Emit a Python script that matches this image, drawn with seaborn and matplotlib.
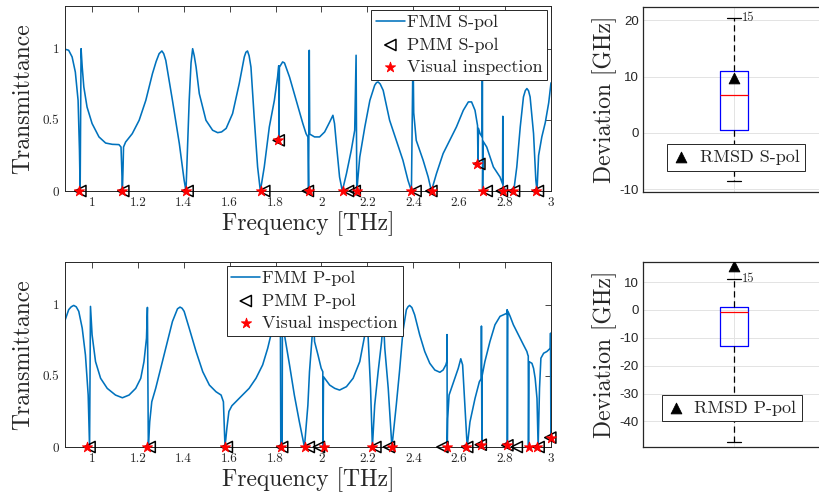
import matplotlib
matplotlib.use("Agg")
import matplotlib.pyplot as plt
from matplotlib import ticker
import seaborn as sns

# FMM transmittance spectrum, S polarisation
s_freq = [0.884, 0.899, 0.914, 0.928, 0.940, 0.946, 0.949, 0.953, 0.958, 0.965,
          0.979, 1.001, 1.031, 1.060, 1.089, 1.118, 1.127, 1.130, 1.133, 1.136,
          1.138, 1.147, 1.176, 1.206, 1.235, 1.264, 1.280, 1.293, 1.305, 1.313,
          1.322, 1.351, 1.381, 1.402, 1.410, 1.424, 1.432, 1.439, 1.446, 1.454,
          1.468, 1.497, 1.526, 1.548, 1.565, 1.585, 1.613, 1.642, 1.664, 1.671,
          1.678, 1.685, 1.693, 1.707, 1.722, 1.734, 1.751, 1.773, 1.795, 1.809,
          1.814, 1.815, 1.817, 1.831, 1.839, 1.861, 1.890, 1.919, 1.933, 1.941,
          1.944, 1.947, 1.949, 1.970, 1.992, 2.014, 2.036, 2.050, 2.057, 2.065,
          2.079, 2.091, 2.109, 2.130, 2.145, 2.151, 2.154, 2.167, 2.189, 2.211,
          2.232, 2.240, 2.247, 2.256, 2.269, 2.297, 2.326, 2.355, 2.377, 2.392,
          2.399, 2.402, 2.413, 2.443, 2.465, 2.479, 2.501, 2.530, 2.559, 2.588,
          2.618, 2.640, 2.654, 2.669, 2.680, 2.682, 2.684, 2.691, 2.700, 2.701,
          2.702, 2.704, 2.720, 2.749, 2.778, 2.789, 2.790, 2.791, 2.800, 2.810,
          2.829, 2.840, 2.851, 2.866, 2.880, 2.888, 2.895, 2.902, 2.909, 2.924,
          2.934, 2.939, 2.946, 2.960, 2.975, 2.990, 3.000]
s_trans = [0.996, 0.989, 0.942, 0.836, 0.637, 0.286, 0.0, 1.0, 0.871, 0.731,
           0.590, 0.474, 0.380, 0.337, 0.328, 0.326, 0.309, 0.169, 0.0, 0.169,
           0.309, 0.344, 0.403, 0.497, 0.637, 0.825, 0.910, 0.965, 0.984, 0.965,
           0.918, 0.637, 0.333, 0.075, 0.0, 0.637, 0.900, 1.0, 0.950, 0.871,
           0.684, 0.497, 0.427, 0.410, 0.415, 0.440, 0.544, 0.755, 0.942, 0.975,
           0.984, 0.950, 0.871, 0.520, 0.169, 0.0, 0.169, 0.450, 0.637, 0.801,
           0.880, 0.356, 0.870, 0.907, 0.900, 0.801, 0.637, 0.474, 0.403, 0.380,
           0.0, 0.989, 0.400, 0.380, 0.380, 0.415, 0.485, 0.532, 0.474, 0.333,
           0.098, 0.0, 0.122, 0.286, 0.427, 0.954, 0.0, 0.239, 0.450, 0.637,
           0.743, 0.762, 0.766, 0.752, 0.707, 0.497, 0.356, 0.216, 0.075, 0.0,
           1.0, 0.550, 0.356, 0.216, 0.098, 0.0, 0.122, 0.263, 0.356, 0.450,
           0.567, 0.626, 0.626, 0.567, 0.460, 0.190, 0.440, 0.403, 0.380, 1.0,
           0.0, 0.350, 0.309, 0.169, 0.098, 0.050, 0.525, 0.0, 0.014, 0.0,
           0.007, 0.030, 0.169, 0.450, 0.661, 0.705, 0.720, 0.705, 0.661, 0.403,
           0.075, 0.0, 0.250, 0.380, 0.480, 0.620, 0.760]

# FMM transmittance spectrum, P polarisation
p_freq = [0.884, 0.899, 0.910, 0.921, 0.932, 0.943, 0.958, 0.972, 0.984, 0.990,
          0.994, 1.001, 1.016, 1.038, 1.067, 1.103, 1.133, 1.162, 1.191, 1.213,
          1.227, 1.238, 1.242, 1.246, 1.252, 1.261, 1.278, 1.300, 1.322, 1.351,
          1.373, 1.384, 1.393, 1.402, 1.424, 1.454, 1.483, 1.512, 1.541, 1.563,
          1.573, 1.580, 1.588, 1.597, 1.610, 1.627, 1.656, 1.685, 1.715, 1.744,
          1.766, 1.780, 1.795, 1.808, 1.821, 1.823, 1.829, 1.830, 1.839, 1.861,
          1.882, 1.904, 1.926, 1.941, 1.948, 1.960, 1.966, 1.970, 1.985, 1.999,
          2.006, 2.007, 2.009, 2.014, 2.036, 2.058, 2.079, 2.109, 2.138, 2.167,
          2.181, 2.189, 2.196, 2.203, 2.214, 2.222, 2.232, 2.247, 2.262, 2.270,
          2.276, 2.291, 2.307, 2.326, 2.340, 2.355, 2.370, 2.377, 2.384, 2.394,
          2.406, 2.428, 2.450, 2.472, 2.494, 2.516, 2.530, 2.542, 2.546, 2.547,
          2.548, 2.550, 2.556, 2.581, 2.596, 2.607, 2.615, 2.625, 2.635, 2.647,
          2.669, 2.688, 2.696, 2.697, 2.699, 2.700, 2.712, 2.734, 2.756, 2.778,
          2.800, 2.808, 2.809, 2.810, 2.812, 2.822, 2.836, 2.858, 2.880, 2.895,
          2.899, 2.901, 2.902, 2.904, 2.917, 2.924, 2.931, 2.939, 2.944, 2.950,
          2.956, 2.968, 2.982, 2.997, 2.998, 2.9995, 3.000]
p_trans = [0.894, 0.965, 0.985, 0.995, 0.985, 0.953, 0.835, 0.647, 0.365, 0.0,
           0.988, 0.788, 0.600, 0.483, 0.412, 0.365, 0.346, 0.365, 0.412, 0.483,
           0.600, 0.765, 0.981, 0.0, 0.176, 0.318, 0.412, 0.553, 0.694, 0.882,
           0.971, 0.983, 0.975, 0.953, 0.835, 0.671, 0.529, 0.435, 0.388, 0.365,
           0.318, 0.0, 0.130, 0.250, 0.290, 0.318, 0.365, 0.412, 0.483, 0.577,
           0.694, 0.788, 0.930, 0.990, 0.950, 0.0, 0.0, 0.900, 0.788, 0.577,
           0.365, 0.176, 0.0, 0.294, 0.529, 0.788, 0.900, 0.741, 0.647, 0.553,
           0.529, 0.0, 0.494, 0.483, 0.435, 0.412, 0.400, 0.424, 0.483, 0.600,
           0.718, 0.788, 0.920, 0.788, 0.412, 0.0, 0.294, 0.529, 0.741, 0.900,
           0.694, 0.412, 0.0, 0.294, 0.529, 0.812, 0.965, 0.985, 0.995, 0.980,
           0.929, 0.788, 0.671, 0.588, 0.541, 0.525, 0.541, 0.577, 0.600, 0.790,
           0.0, 0.200, 0.365, 0.483, 0.553, 0.620, 0.577, 0.294, 0.0, 0.176,
           0.341, 0.459, 0.480, 0.850, 0.0, 0.500, 0.600, 0.741, 0.859, 0.918,
           0.934, 0.940, 0.965, 0.0, 0.955, 0.918, 0.859, 0.788, 0.718, 0.671,
           0.647, 0.640, 0.0, 0.600, 0.588, 0.553, 0.483, 0.341, 0.0, 0.412,
           0.624, 0.659, 0.671, 0.694, 0.800, 0.066, 0.700]

# resonances found by PMM and by visual inspection
s_pmm_f = [0.950, 1.137, 1.417, 1.751, 1.814, 1.941, 2.116, 2.145, 2.410, 2.479,
           2.688, 2.720, 2.786, 2.839, 2.943]
s_vis_f = [0.945, 1.130, 1.410, 1.737, 1.810, 1.945, 2.094, 2.155, 2.391, 2.481,
           2.679, 2.702, 2.790, 2.835, 2.935]
s_res_t = [0, 0, 0, 0, 0.356, 0, 0, 0, 0, 0, 0.19, 0, 0, 0, 0]

p_pmm_f = [0.990, 1.252, 1.588, 1.829, 1.945, 1.989, 2.235, 2.294, 2.527, 2.635,
           2.694, 2.810, 2.851, 2.946, 2.997]
p_vis_f = [0.979, 1.242, 1.580, 1.824, 1.929, 2.011, 2.222, 2.309, 2.549, 2.629,
           2.693, 2.808, 2.902, 2.939, 2.999]
p_res_t = [0, 0, 0, 0, 0, 0, 0, 0, 0, 0, 0.016, 0.012, 0, 0, 0.066]

# deviation PMM vs visual inspection [GHz]
s_dev = [-8.5, -4, -2, 0.0, 1.2, 4, 5, 6.8, 7, 8, 9.5, 12.5, 13, 17, 20.5]
p_dev = [-47.3, -20.5, -20, -14.2, -12, -6, -2, -0.6, 0.2, 0.5, 0.8, 1.08, 5, 8, 11.1]
rmsd = {"S": 9.7, "P": 15.6}

sns.set_style("white")
plt.rcParams["font.family"] = ["cmr10", "DejaVu Serif"]
plt.rcParams["axes.unicode_minus"] = False
plt.rcParams["axes.formatter.use_mathtext"] = False

DARK = "#262626"
W, H = 819, 500
fig = plt.figure(figsize=(W / 100, H / 100), dpi=100)


def add_axes(x0, y0, x1, y1):
    # pixel box -> figure fraction
    return fig.add_axes([x0 / W, 1 - y1 / H, (x1 - x0) / W, (y1 - y0) / H])


def draw_spectrum(ax, freq, trans, pmm_f, vis_f, res_t, pol, loc, anchor):
    sns.lineplot(x=freq, y=trans, sort=False, estimator=None, color="#0072BD",
                 lw=1.15, solid_joinstyle="round", ax=ax, label=f"FMM {pol}-pol")
    sns.scatterplot(x=pmm_f, y=res_t, marker="<", s=65, color="black",
                    facecolor="none", edgecolor="black", linewidth=1.1,
                    clip_on=False, zorder=3, ax=ax, label=f"PMM {pol}-pol")
    sns.scatterplot(x=vis_f, y=res_t, marker="*", s=60, color="red",
                    edgecolor="red", linewidth=0.6, clip_on=False, zorder=4,
                    ax=ax, label="Visual inspection")
    ax.set_xlim(0.883, 3.0)
    ax.set_ylim(0, 1.3)
    ax.set_xticks([1, 1.2, 1.4, 1.6, 1.8, 2, 2.2, 2.4, 2.6, 2.8, 3])
    ax.set_yticks([0, 0.5, 1])
    fmt = ticker.FuncFormatter(lambda v, _: f"{v:g}")
    ax.xaxis.set_major_formatter(fmt)
    ax.yaxis.set_major_formatter(fmt)
    ax.tick_params(direction="in", top=True, right=True, length=4, width=0.6,
                   labelsize=9.5, colors=DARK, pad=4)
    for sp in ax.spines.values():
        sp.set_color(DARK)
        sp.set_linewidth(0.7)
    ax.set_xlabel("Frequency [THz]", fontsize=17, color=DARK, labelpad=2)
    ax.set_ylabel("Transmittance", fontsize=17, color=DARK, labelpad=6)
    ax.legend(loc=loc, bbox_to_anchor=anchor, borderaxespad=0, fontsize=13,
              frameon=True, fancybox=False, edgecolor=DARK, framealpha=1,
              labelspacing=0.38, borderpad=0.25, handlelength=1.6,
              handletextpad=0.12)
    ax.get_legend().get_frame().set_linewidth(0.7)


def draw_deviation(ax, dev, value, pol, yticks, ylim, anchor):
    sns.boxplot(y=dev, whis=(0, 100), width=0.3, fill=False, ax=ax,
                linewidth=0.9,
                boxprops=dict(color="blue"),
                medianprops=dict(color="red"),
                whiskerprops=dict(color="black", linestyle=(0, (5, 3))),
                capprops=dict(color="black"))
    sns.scatterplot(x=[0], y=[value], marker="^", s=60, color="black",
                    edgecolor="black", zorder=4, ax=ax, label=f"RMSD {pol}-pol")
    ax.text(0.085, max(dev), "15", fontsize=9, va="center", ha="left", color=DARK)
    ax.set_xlim(-1, 1)
    ax.set_ylim(*ylim)
    ax.set_xticks([0])
    ax.set_xticklabels([])
    ax.set_yticks(yticks)
    ax.grid(True, color="#e3e3e3", lw=0.7)
    ax.set_axisbelow(True)
    ax.tick_params(direction="in", length=3, width=0.6, labelsize=9.5,
                   colors=DARK, labelfontfamily="Liberation Sans", pad=3)
    for sp in ax.spines.values():
        sp.set_color(DARK)
        sp.set_linewidth(0.9)
    ax.set_ylabel("Deviation [GHz]", fontsize=17, color=DARK, labelpad=2)
    ax.set_xlabel("")
    ax.legend(loc="upper left", bbox_to_anchor=anchor, borderaxespad=0,
              fontsize=13, frameon=True, fancybox=False, edgecolor=DARK,
              framealpha=1, borderpad=0.3, handlelength=1.0,
              handletextpad=0.5)
    ax.get_legend().get_frame().set_linewidth(0.7)


ax1 = add_axes(65, 6, 551, 191)
draw_spectrum(ax1, s_freq, s_trans, s_pmm_f, s_vis_f, s_res_t, "S",
              "upper right", (0.992, 0.978))
ax2 = add_axes(65, 262, 551, 447)
draw_spectrum(ax2, p_freq, p_trans, p_pmm_f, p_vis_f, p_res_t, "P",
              "upper left", (0.333, 0.978))

ax3 = add_axes(643, 7, 825, 192)
draw_deviation(ax3, s_dev, rmsd["S"], "S", [-10, 0, 10, 20], (-10.5, 22.4),
               (0.132, 0.259))
ax4 = add_axes(643, 262, 825, 447)
draw_deviation(ax4, p_dev, rmsd["P"], "P", [-40, -30, -20, -10, 0, 10],
               (-49.2, 17.2), (0.104, 0.281))

fig.savefig("out.png", dpi=100)
